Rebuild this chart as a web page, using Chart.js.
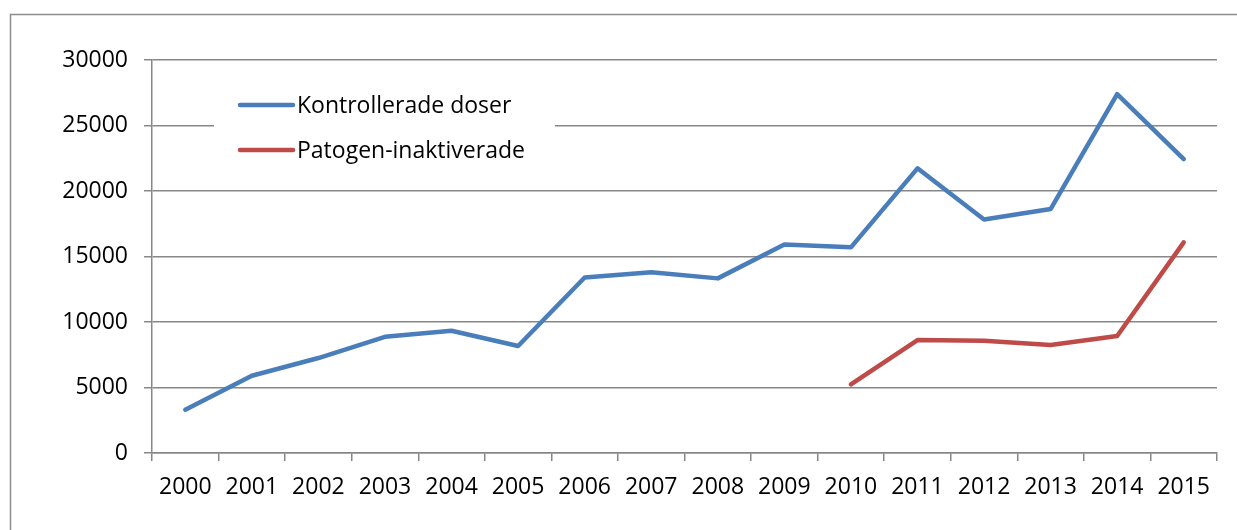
<!DOCTYPE html>
<html>
<head>
<meta charset="utf-8">
<script src="https://cdn.jsdelivr.net/npm/chart.js@4.4.1/dist/chart.umd.min.js"></script>
<style>
  html, body { margin: 0; padding: 0; background: #fff; }
  .wrap { width: 1237px; height: 530px; position: relative; }
</style>
</head>
<body>
<div class="wrap"><canvas id="myChart" width="1237" height="530"></canvas></div>
<script>
// Data

const years = ['2000', '2001', '2002', '2003', '2004', '2005', '2006', '2007',
  '2008', '2009', '2010', '2011', '2012', '2013', '2014', '2015'];

const kontrollerade = [3300, 5900, 7250, 8870, 9330, 8170, 13400, 13790,
  13330, 15920, 15700, 21730, 17830, 18620, 27390, 22430];

const patogen = [null, null, null, null, null, null, null, null,
  null, null, 5240, 8620, 8570, 8240, 8930, 16080];

const yTicks = [0, 5000, 10000, 15000, 20000, 25000, 30000];

const seriesNames = ['Kontrollerade doser', 'Patogen-inaktiverade'];

const FONT = '"Open Sans", "Noto Sans", sans-serif';
const GRID = '#878787';



// Outer frame + legend inside the plot

const framePlugin = {
  id: 'frame',
  beforeDraw(chart) {
    const c = chart.ctx;
    c.save();
    c.fillStyle = '#fff';
    c.fillRect(0, 0, chart.width, chart.height);
    c.strokeStyle = '#8c8c8c';
    c.lineWidth = 1.5;
    c.strokeRect(10.5, 14.5, 1400, 700);
    c.restore();
  },
  afterDraw(chart) {
    const c = chart.ctx;
    c.save();
    c.fillStyle = '#fff';
    c.fillRect(214, 84, 341, 88);
    chart.data.datasets.forEach((ds, i) => {
      const y = 105 + i * 45;
      c.strokeStyle = ds.borderColor;
      c.lineWidth = 4.5;
      c.lineCap = 'round';
      c.beginPath();
      c.moveTo(240, y);
      c.lineTo(293, y);
      c.stroke();
      c.fillStyle = '#000';
      c.font = '23px ' + FONT;
      c.textBaseline = 'middle';
      c.fillText(ds.label, 297, y + 1);
    });
    c.restore();
  }
};



// Line Chart

const ctx = document.getElementById('myChart').getContext('2d');

const myChart = new Chart(ctx, {
  type: 'line',
  data: {
    labels: years,
    datasets: [
      {
        label: seriesNames[0],
        data: kontrollerade,
        borderColor: '#4A7EBB',
        borderWidth: 4.5,
        borderCapStyle: 'round',
        borderJoinStyle: 'round',
        pointRadius: 0,
        tension: 0
      },
      {
        label: seriesNames[1],
        data: patogen,
        borderColor: '#BE4B48',
        borderWidth: 4.5,
        borderCapStyle: 'round',
        borderJoinStyle: 'round',
        pointRadius: 0,
        tension: 0,
        spanGaps: false
      }
    ]
  },
  options: {
    responsive: false,
    animation: false,
    devicePixelRatio: 1,
    layout: { padding: { top: 60, right: 20, left: 0, bottom: 0 } },
    plugins: {
      legend: { display: false },
      tooltip: { enabled: false }
    },
    scales: {
      x: {
        offset: true,
        grid: {
          offset: true,
          drawOnChartArea: false,
          drawTicks: true,
          tickLength: 8,
          color: GRID,
          lineWidth: 1.5
        },
        border: { color: GRID, width: 1.5 },
        ticks: {
          color: '#000',
          font: { family: FONT, size: 23 },
          padding: 13,
          maxRotation: 0,
          autoSkip: false
        },
        afterFit(scale) { scale.height = 77; }
      },
      y: {
        min: 0,
        max: 30000,
        afterBuildTicks(scale) {
          scale.ticks = yTicks.map(v => ({ value: v }));
        },
        grid: {
          color: GRID,
          lineWidth: 1.5,
          tickLength: 8
        },
        border: { color: GRID, width: 1.5 },
        ticks: {
          color: '#000',
          font: { family: FONT, size: 23 },
          padding: 16,
          callback: v => String(v)
        },
        afterFit(scale) { scale.width = 152; }
      }
    }
  },
  plugins: [framePlugin]
});
</script>
</body>
</html>
